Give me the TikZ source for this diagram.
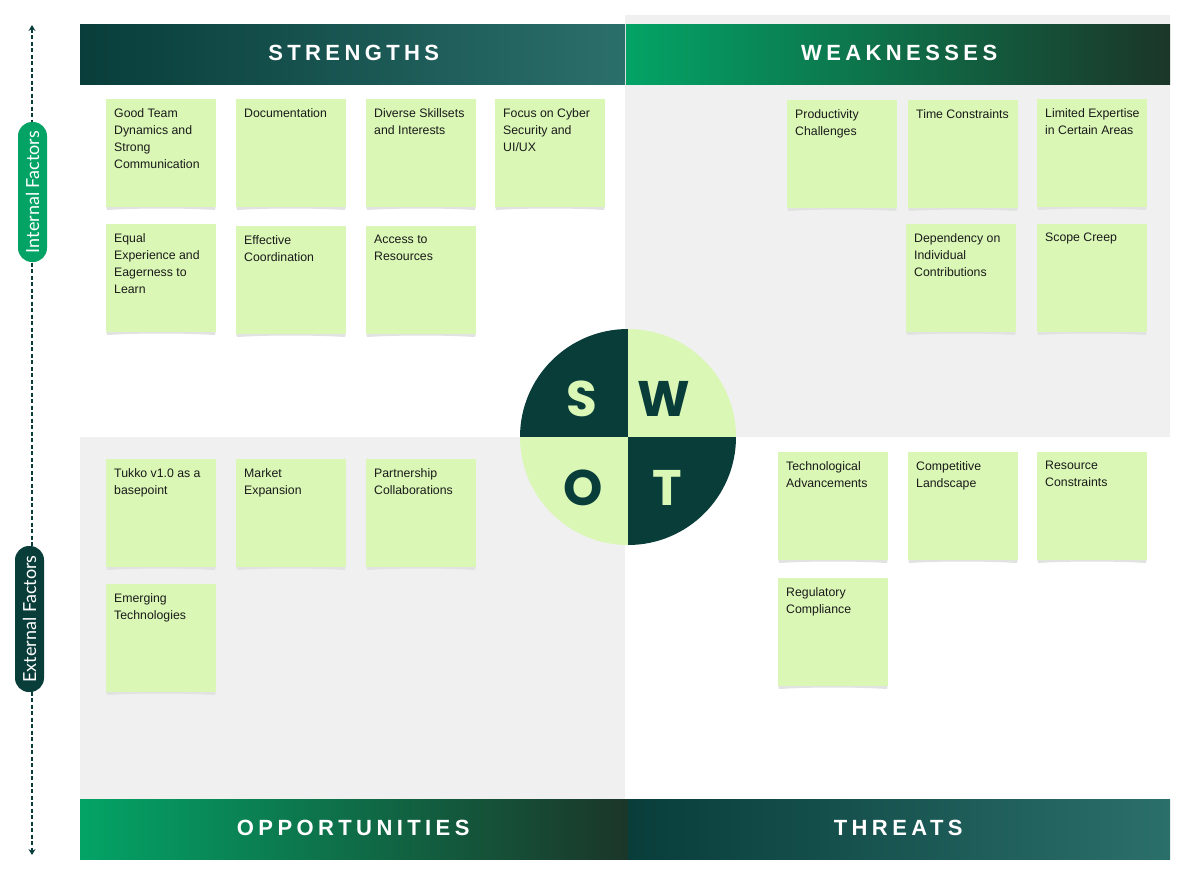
\documentclass[tikz,border=0pt]{standalone}
\usepackage{fontspec}
\setmainfont{Liberation Sans}
\newfontfamily\headfont{Liberation Sans}[LetterSpace=20]
\newfontfamily\axisfont{Lato}
\newfontfamily\swotfont{Poppins}
\usetikzlibrary{arrows.meta}

\definecolor{deepteal}{HTML}{083D3A}
\definecolor{softteal}{HTML}{2B6F6B}
\definecolor{leaf}{HTML}{03A366}
\definecolor{forest}{HTML}{1B3629}
\definecolor{paper}{HTML}{DAF7B6}
\definecolor{panel}{HTML}{F0F0F0}
\definecolor{curl}{HTML}{E0E3E0}
\definecolor{ink}{HTML}{1A1A1A}

\tikzset{
  headbox/.style={rectangle, anchor=north west, minimum height=60pt, inner sep=0pt},
  headtext/.style={text=white, font=\headfont\bfseries\fontsize{22}{22}\selectfont, inner sep=0pt},
  notebox/.style={rectangle, anchor=north west, fill=paper, minimum width=110pt,
    minimum height=108pt, inner sep=0pt},
  notetext/.style={anchor=north west, inner sep=0pt, align=left, text=ink,
    font=\fontsize{12.3}{17}\selectfont},
  pill/.style={rectangle, rounded corners=14pt, minimum height=29pt, inner sep=0pt,
    text=white, font=\axisfont\fontsize{18}{18}\selectfont},
  axisline/.style={deepteal, line width=1.4pt, dash pattern=on 4pt off 2.5pt,
    {Stealth[length=6pt,width=7pt,inset=2pt]}-{Stealth[length=6pt,width=7pt,inset=2pt]}},
  swotletter/.style={font=\swotfont\bfseries\fontsize{50}{50}\selectfont, inner sep=0pt}
}

% sticky note: name, left x, top y, text
\newcommand{\stickynote}[4]{%
  \fill[curl] (#2,#3+106) -- (#2+110,#3+106) -- (#2+109,#3+111)
    .. controls (#2+75,#3+109) and (#2+35,#3+109) .. (#2+1,#3+111) -- cycle;
  \node[notebox] (#1) at (#2,#3) {};
  \node[notetext] (#1-txt) at (#2+8,#3+9) {#4};
}

\begin{document}
\begin{tikzpicture}[x=1pt, y=-1pt]
\useasboundingbox (0,0) rectangle (1202,886);
\fill[white] (0,0) rectangle (1202,886);

% quadrant backgrounds
\fill[panel] (625,15) rectangle (1170,437);
\fill[panel] (80,437) rectangle (625,799);

% headers
\node[headbox, minimum width=545pt, left color=deepteal, right color=softteal] (strengths) at (80,24) {};
\node[headtext, yshift=1.5pt, xshift=1pt] at (strengths.center) {STRENGTHS};
\node[headbox, minimum width=544pt, left color=leaf, right color=forest] (weaknesses) at (626,24) {};
\node[headtext, yshift=1.5pt, xshift=1pt] at (weaknesses.center) {WEAKNESSES};
\node[headbox, minimum width=548pt, left color=leaf, right color=forest] (opportunities) at (80,799) {};
\node[headtext, yshift=1.5pt, xshift=-1pt] at (opportunities.center) {OPPORTUNITIES};
\node[headbox, minimum width=542pt, left color=deepteal, right color=softteal] (threats) at (628,799) {};
\node[headtext, yshift=1.5pt, xshift=-1pt] at (threats.center) {THREATS};

% axis of internal / external factors
\coordinate (axtop) at (32,25);
\coordinate (axbot) at (32,855);
\draw[axisline] (axtop) -- (axbot);
\node[pill, fill=leaf, rotate=90, minimum width=140pt] (internal) at (32.5,192) {Internal Factors};
\node[pill, fill=deepteal, rotate=90, minimum width=146pt] (external) at (29.5,619) {External Factors};

% strengths
\stickynote{s1}{106}{99}{Good Team\\Dynamics and\\Strong\\Communication}
\stickynote{s2}{236}{99}{Documentation}
\stickynote{s3}{366}{99}{Diverse Skillsets\\and Interests}
\stickynote{s4}{495}{99}{Focus on Cyber\\Security and\\UI/UX}
\stickynote{s5}{106}{224}{Equal\\Experience and\\Eagerness to\\Learn}
\stickynote{s6}{236}{226}{Effective\\Coordination}
\stickynote{s7}{366}{226}{Access to\\Resources}

% weaknesses
\stickynote{w1}{787}{100}{Productivity\\Challenges}
\stickynote{w2}{908}{100}{Time Constraints}
\stickynote{w3}{1037}{99}{Limited Expertise\\in Certain Areas}
\stickynote{w4}{906}{224}{Dependency on\\Individual\\Contributions}
\stickynote{w5}{1037}{224}{Scope Creep}

% opportunities
\stickynote{o1}{106}{459}{Tukko v1.0 as a\\basepoint}
\stickynote{o2}{236}{459}{Market\\Expansion}
\stickynote{o3}{366}{459}{Partnership\\Collaborations}
\stickynote{o4}{106}{584}{Emerging\\Technologies}

% threats
\stickynote{t1}{778}{452}{Technological\\Advancements}
\stickynote{t2}{908}{452}{Competitive\\Landscape}
\stickynote{t3}{1037}{452}{Resource\\Constraints}
\stickynote{t4}{778}{578}{Regulatory\\Compliance}

% SWOT disc
\begin{scope}
  \clip (628,437) circle[radius=108pt];
  \fill[deepteal] (520,329) rectangle (628,437);
  \fill[paper] (628,329) rectangle (736,437);
  \fill[paper] (520,437) rectangle (628,545);
  \fill[deepteal] (628,437) rectangle (736,545);
\end{scope}
\node[swotletter, text=paper] (lS) at (582,399) {S};
\node[swotletter, text=deepteal] (lW) at (664,399) {W};
\node[swotletter, text=deepteal] (lO) at (583,488) {O};
\node[swotletter, text=paper] (lT) at (667,488) {T};
\end{tikzpicture}
\end{document}
